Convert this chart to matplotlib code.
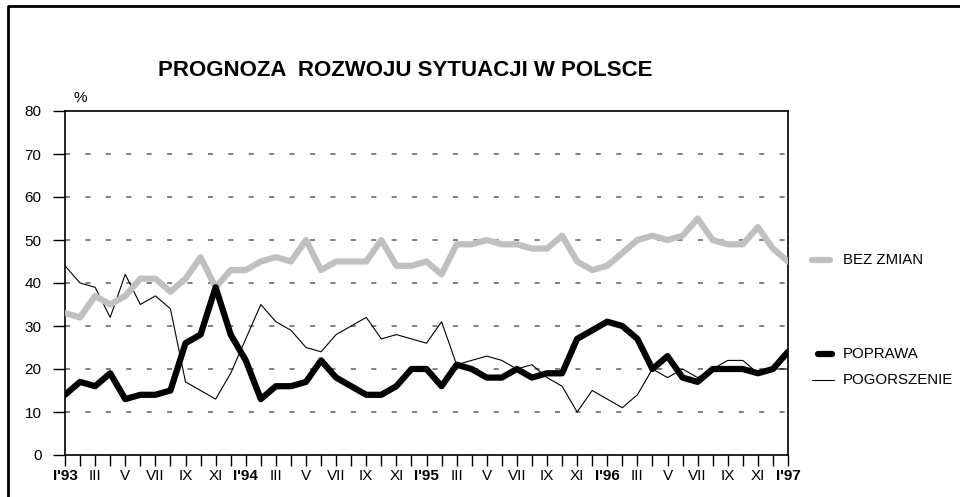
import matplotlib.pyplot as plt
import numpy as np
from matplotlib.lines import Line2D

plt.rcParams['font.family'] = ['Liberation Sans', 'DejaVu Sans']

# monthly survey, I'93 .. I'97 (49 months)
bez_zmian = [33, 32, 37, 35, 37, 41, 41, 38, 41, 46, 39, 43, 43, 45, 46, 45, 50,
             43, 45, 45, 45, 50, 44, 44, 45, 42, 49, 49, 50, 49, 49, 48, 48, 51,
             45, 43, 44, 47, 50, 51, 50, 51, 55, 50, 49, 49, 53, 48, 45]
poprawa = [14, 17, 16, 19, 13, 14, 14, 15, 26, 28, 39, 28, 22, 13, 16, 16, 17,
           22, 18, 16, 14, 14, 16, 20, 20, 16, 21, 20, 18, 18, 20, 18, 19, 19,
           27, 29, 31, 30, 27, 20, 23, 18, 17, 20, 20, 20, 19, 20, 24]
pogorszenie = [44, 40, 39, 32, 42, 35, 37, 34, 17, 15, 13, 19, 27, 35, 31, 29, 25,
               24, 28, 30, 32, 27, 28, 27, 26, 31, 21, 22, 23, 22, 20, 21, 18, 16,
               10, 15, 13, 11, 14, 20, 18, 20, 18, 20, 22, 22, 19, 20, 20]

months = ['I', 'II', 'III', 'IV', 'V', 'VI', 'VII', 'VIII', 'IX', 'X', 'XI', 'XII']
years = ['93', '94', '95', '96', '97']
y_ticks = [0, 10, 20, 30, 40, 50, 60, 70, 80]

x = np.arange(len(poprawa))

fig = plt.figure(figsize=(9.6, 4.97), dpi=100)
ax = fig.add_axes([65 / 960, 1 - 455 / 497, 723 / 960, 344 / 497])

# dashed grid
for v in y_ticks[1:-1]:
    ax.axhline(v, color='#808080', lw=1.4, linestyle=(0, (2.6, 7.9)), zorder=1)

common = dict(solid_joinstyle='round', solid_capstyle='round', zorder=3)
ax.plot(x, pogorszenie, color='black', lw=0.8, **common)
ax.plot(x, bez_zmian, color='#c0c0c0', lw=4.5, **common)
ax.plot(x, poprawa, color='black', lw=4.5, **common)

ax.set_xlim(0, len(x) - 1)
ax.set_ylim(0, 80)
ax.set_yticks(y_ticks)
ax.tick_params(axis='y', length=9, width=1, labelsize=11, pad=8)

# x axis: a tick every month, a label every second month
ax.set_xticks(x)
labels = []
for i in x:
    m = i % 12
    if i % 2:
        labels.append('')
    elif m == 0:
        labels.append("I'" + years[i // 12])
    else:
        labels.append(months[m])
ax.set_xticklabels(labels)
ax.tick_params(axis='x', length=8, width=1, labelsize=11, pad=2)
for i, lab in enumerate(ax.get_xticklabels()):
    if i % 12 == 0:
        lab.set_fontweight('bold')

for s in ax.spines.values():
    s.set_linewidth(1.2)

fig.text(73 / 960, 1 - 98 / 497, '%', fontsize=11, ha='left', va='center')

fig.text(405 / 960, 1 - 71 / 497, 'PROGNOZA  ROZWOJU SYTUACJI W POLSCE',
         fontsize=16, fontweight='bold', ha='center', va='center')

# legend drawn at the right side
leg = [('BEZ ZMIAN', 260, '#c0c0c0', 4.5, 812, 830),
       ('POPRAWA', 354, 'black', 4.5, 818, 832),
       ('POGORSZENIE', 380, 'black', 0.8, 812, 834)]
for name, yy, col, w, x0, x1 in leg:
    fy = 1 - yy / 497
    fig.add_artist(Line2D([x0 / 960, x1 / 960], [fy, fy], color=col, lw=w,
                          solid_capstyle='round'))
    fig.text(843 / 960, fy, name, fontsize=10.8, ha='left', va='center')

# outer frame (top and left edges)
fig.add_artist(Line2D([8 / 960, 8 / 960, 1.0], [0.0, 1 - 6 / 497, 1 - 6 / 497],
                      color='black', lw=2))

fig.savefig('out.png', dpi=100)
